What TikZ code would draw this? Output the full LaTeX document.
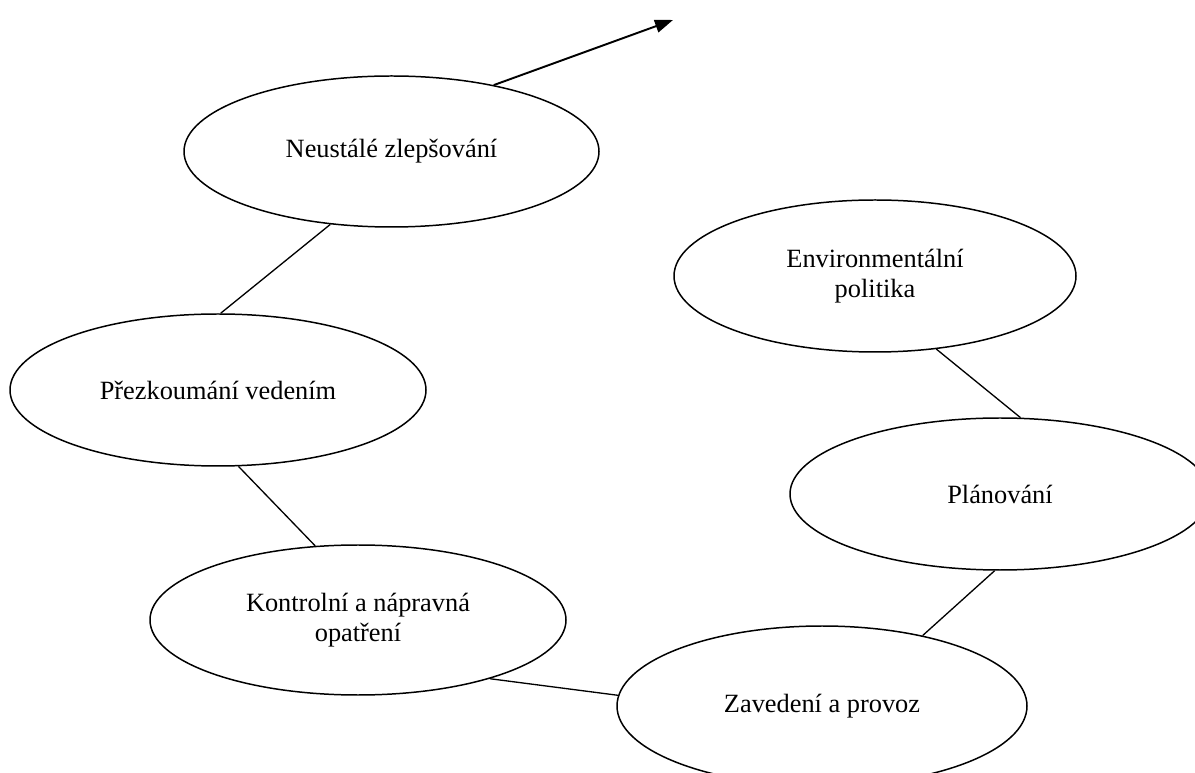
\documentclass[tikz,border=0pt]{standalone}
\usepackage{fontspec}
\setmainfont{Liberation Serif}
\usetikzlibrary{shapes.geometric,arrows.meta}
\begin{document}
\begin{tikzpicture}[bubble/.style={draw,ellipse,line width=0.85pt,inner sep=0pt,align=center,font=\fontsize{15}{17}\selectfont},link/.style={line width=0.75pt}]
\useasboundingbox(0,0)rectangle(23.9,15.44);
\node[bubble,minimum width=8.3cm,minimum height=3.02cm](neu)at(7.83,12.41){Neustálé zlepšování};
\node[bubble,minimum width=8.04cm,minimum height=3.04cm](env)at(17.5,9.92){Environmentální\\politika};
\node[bubble,minimum width=8.32cm,minimum height=3.04cm](pre)at(4.36,7.64){Přezkoumání vedením};
\node[bubble,minimum width=8.4cm,minimum height=3.04cm](pla)at(20,5.56){Plánování};
\node[bubble,minimum width=8.32cm,minimum height=3cm](kon)at(7.16,3.04){Kontrolní a nápravná\\opatření};
\node[bubble,minimum width=8.2cm,minimum height=3.2cm](zav)at(16.44,1.32){Zavedení a provoz};
\coordinate(tip)at(13.46,15.04);
\draw[link](env.-50)--(pla.75);
\draw[link](pla.-94)--(zav.35);
\draw[link](zav.177)--(kon.-24);
\draw[link](kon.120)--(pre.-75);
\draw[link](pre.88)--(neu.-130);
\draw[line width=1.1pt,-{Triangle[length=0.36cm,width=0.26cm]}](neu.33)--(tip);
\end{tikzpicture}
\end{document}
